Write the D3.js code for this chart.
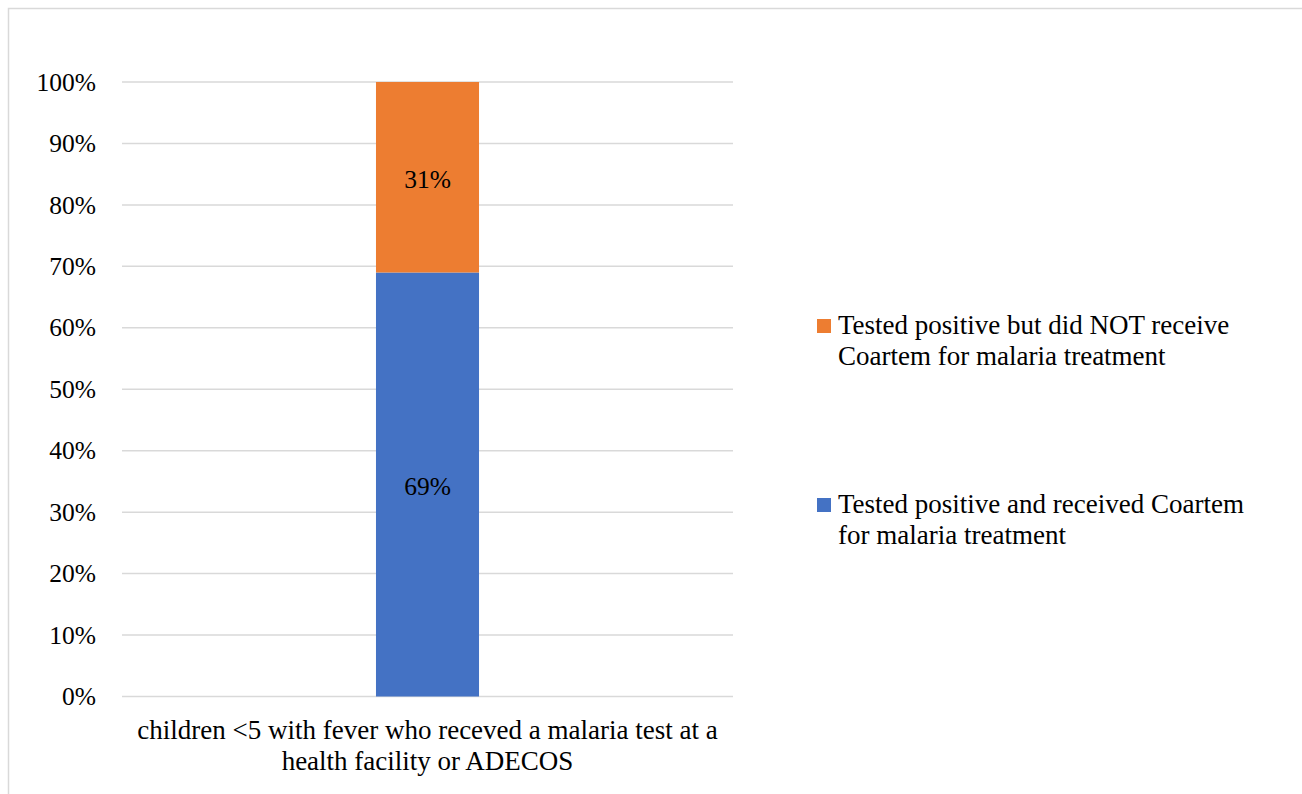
<!DOCTYPE html>
<html>
<head>
<meta charset="utf-8">
<script src="https://cdn.jsdelivr.net/npm/d3@7"></script>
<style>
  html, body { margin: 0; padding: 0; background: #fff; }
  svg { display: block; font-family: "Liberation Serif", "Times New Roman", serif; }
</style>
</head>
<body>
<div id="chart"></div>
<script>
// 数据
const categories = ['children <5 with fever who receved a malaria test at a|health facility or ADECOS'];
const seriesNames = [
  'Tested positive and received Coartem|for malaria treatment',
  'Tested positive but did NOT receive|Coartem for malaria treatment'
];
const receivedValues = [69];
const notReceivedValues = [31];
const seriesColors = ['#4472C4', '#ED7D31'];
const yTicks = [0, 10, 20, 30, 40, 50, 60, 70, 80, 90, 100];

function drawChart() {
  const width = 1302, height = 794;
  const plot = { left: 122, right: 733, top: 82, bottom: 696.5 };
  const numFont = 25.5;
  const textFont = 27;

  const svg = d3.select('#chart').append('svg')
    .attr('width', width)
    .attr('height', height);

  // 外框
  svg.append('rect')
    .attr('x', 8.5).attr('y', 8.5)
    .attr('width', width + 20).attr('height', height + 20)
    .attr('fill', 'none')
    .attr('stroke', '#d9d9d9')
    .attr('stroke-width', 1.5);

  const x = d3.scaleBand()
    .domain(categories)
    .range([plot.left, plot.right])
    .paddingInner(0)
    .paddingOuter(2.465);

  const y = d3.scaleLinear()
    .domain([0, 100])
    .range([plot.bottom, plot.top]);

  // 网格线
  svg.append('g')
    .selectAll('line')
    .data(yTicks)
    .join('line')
    .attr('x1', plot.left).attr('x2', plot.right)
    .attr('y1', d => y(d)).attr('y2', d => y(d))
    .attr('stroke', '#d9d9d9')
    .attr('stroke-width', 1.5);

  // y轴
  const yAxis = svg.append('g')
    .attr('transform', `translate(${plot.left - 26},0)`)
    .call(d3.axisLeft(y).tickValues(yTicks).tickFormat(d => d + '%').tickSize(0).tickPadding(0));
  yAxis.select('.domain').remove();
  yAxis.selectAll('text')
    .attr('font-family', '"Liberation Serif", "Times New Roman", serif')
    .attr('font-size', numFont)
    .attr('fill', '#000')
    .attr('dy', '0.32em');

  // 堆叠
  const table = categories.map((c, i) => ({ cat: c, received: receivedValues[i], notReceived: notReceivedValues[i] }));
  const stack = d3.stack().keys(['received', 'notReceived'])(table);

  const layers = svg.append('g')
    .selectAll('g')
    .data(stack)
    .join('g')
    .attr('fill', (d, i) => seriesColors[i]);

  layers.selectAll('rect')
    .data(d => d)
    .join('rect')
    .attr('x', d => x(d.data.cat))
    .attr('width', x.bandwidth())
    .attr('y', d => y(d[1]))
    .attr('height', d => y(d[0]) - y(d[1]));

  // 数据标签
  layers.selectAll('text')
    .data(d => d)
    .join('text')
    .attr('x', d => x(d.data.cat) + x.bandwidth() / 2)
    .attr('y', d => y((d[0] + d[1]) / 2))
    .attr('dy', '0.42em')
    .attr('text-anchor', 'middle')
    .attr('font-size', numFont)
    .attr('fill', '#000')
    .text(d => Math.round(d[1] - d[0]) + '%');

  // x轴分类标签
  categories.forEach(c => {
    const lines = c.split('|');
    const t = svg.append('text')
      .attr('text-anchor', 'middle')
      .attr('font-size', textFont)
      .attr('fill', '#000');
    lines.forEach((ln, i) => {
      t.append('tspan')
        .attr('x', x(c) + x.bandwidth() / 2)
        .attr('y', 739 + i * 31)
        .text(ln);
    });
  });

  // 图例（倒序）
  const legendY = [334, 513];
  const legendOrder = [1, 0];
  legendOrder.forEach((si, k) => {
    const g = svg.append('g');
    g.append('rect')
      .attr('x', 817).attr('y', legendY[k] - 15)
      .attr('width', 14).attr('height', 14)
      .attr('fill', seriesColors[si]);
    const t = g.append('text')
      .attr('font-size', textFont)
      .attr('fill', '#000');
    seriesNames[si].split('|').forEach((ln, i) => {
      t.append('tspan')
        .attr('x', 838)
        .attr('y', legendY[k] + i * 31)
        .text(ln);
    });
  });
}

drawChart();
</script>
</body>
</html>
